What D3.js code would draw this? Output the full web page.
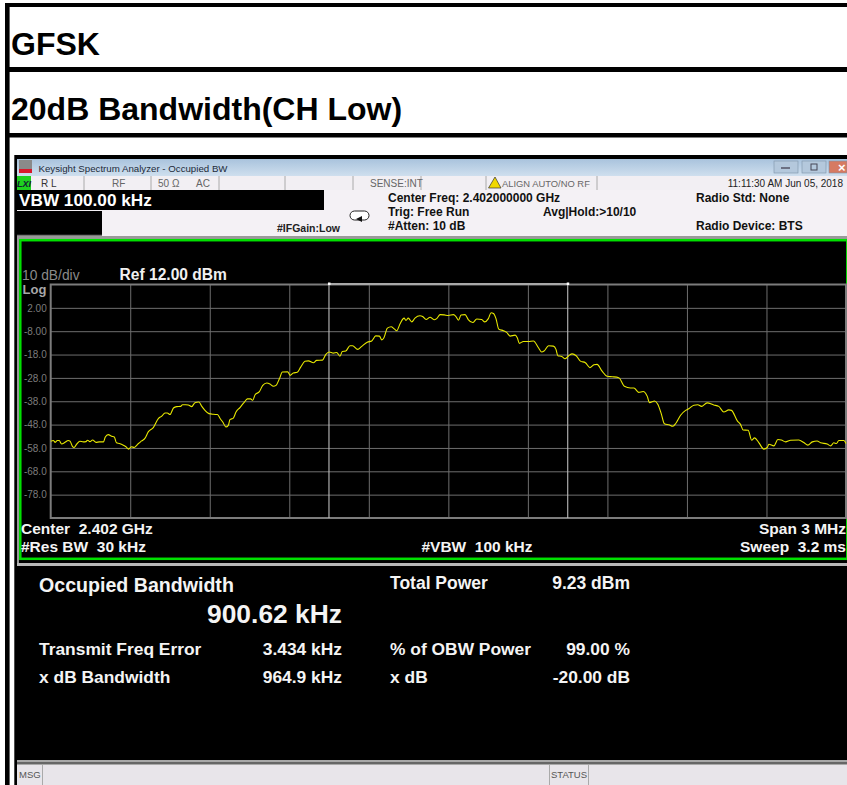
<!DOCTYPE html>
<html><head><meta charset="utf-8">
<script src="https://cdn.jsdelivr.net/npm/d3@7/dist/d3.min.js"></script>
<style>html,body{margin:0;padding:0;background:#fff;overflow:hidden}svg{display:block}text{font-family:"Liberation Sans",Arial,sans-serif;white-space:pre}</style>
</head><body><svg id="c" width="847" height="785"></svg>
<script>
const offsetMHz=[-1.500,-1.490,-1.483,-1.475,-1.468,-1.459,-1.446,-1.434,-1.427,-1.418,-1.412,-1.402,-1.390,-1.377,-1.367,-1.361,-1.352,-1.342,-1.329,-1.317,-1.301,-1.294,-1.283,-1.270,-1.260,-1.252,-1.241,-1.226,-1.216,-1.206,-1.195,-1.185,-1.169,-1.157,-1.144,-1.132,-1.113,-1.094,-1.081,-1.069,-1.060,-1.050,-1.037,-1.025,-1.010,-1.003,-0.991,-0.981,-0.968,-0.956,-0.941,-0.930,-0.918,-0.903,-0.886,-0.871,-0.861,-0.851,-0.839,-0.830,-0.824,-0.811,-0.801,-0.786,-0.771,-0.758,-0.746,-0.738,-0.729,-0.713,-0.700,-0.685,-0.673,-0.660,-0.650,-0.637,-0.626,-0.606,
-0.597,-0.585,-0.570,-0.557,-0.541,-0.528,-0.509,-0.497,-0.475,-0.462,-0.449,-0.434,-0.421,-0.409,-0.400,-0.387,-0.371,-0.361,-0.342,-0.327,-0.306,-0.289,-0.274,-0.260,-0.251,-0.243,-0.230,-0.216,-0.204,-0.195,-0.182,-0.167,-0.160,-0.151,-0.138,-0.126,-0.107,-0.097,-0.084,-0.069,-0.054,-0.044,-0.031,-0.016,0.000,0.019,0.028,0.038,0.048,0.063,0.075,0.092,0.107,0.126,0.136,0.151,0.161,0.170,0.180,0.190,0.208,0.220,0.233,0.252,0.260,0.268,0.283,0.302,0.321,0.340,0.352,0.361,0.378,0.396,0.406,0.413,0.428,0.440,
0.454,0.467,0.482,0.498,0.517,0.534,0.549,0.561,0.580,0.599,0.618,0.643,0.664,0.687,0.700,0.718,0.735,0.750,0.759,0.778,0.790,0.803,0.815,0.832,0.847,0.859,0.876,0.895,0.907,0.926,0.941,0.955,0.976,1.001,1.020,1.039,1.058,1.068,1.090,1.102,1.112,1.131,1.144,1.155,1.171,1.190,1.203,1.209,1.228,1.243,1.256,1.272,1.291,1.322,1.341,1.356,1.373,1.391,1.404,1.429,1.442,1.454,1.464,1.473,1.492,1.500];
const levelDbm=[-55.1,-54.8,-55.6,-54.8,-54.8,-56.3,-55.6,-54.8,-55.1,-57.3,-57.8,-56.4,-55.1,-55.4,-55.3,-54.7,-55.3,-54.6,-55.6,-55.4,-55.4,-53.3,-52.3,-53.0,-53.3,-55.8,-56.1,-56.8,-57.5,-58.5,-57.5,-57.8,-56.1,-55.0,-53.8,-51.1,-49.3,-45.4,-44.4,-43.0,-43.0,-43.7,-40.9,-40.3,-40.2,-39.5,-39.5,-39.6,-40.3,-38.6,-38.3,-40.2,-41.9,-43.3,-43.6,-43.7,-45.4,-46.9,-49.0,-48.3,-45.9,-45.2,-42.6,-40.7,-38.6,-37.0,-37.0,-37.6,-35.2,-33.9,-31.2,-30.2,-30.6,-31.6,-31.2,-28.3,-25.5,-25.4,
-26.9,-25.9,-25.6,-23.4,-20.9,-20.7,-21.5,-20.5,-20.4,-17.9,-16.9,-17.4,-17.1,-18.7,-16.7,-16.5,-14.2,-14.2,-15.8,-14.5,-12.7,-12.2,-10.0,-10.1,-11.7,-10.8,-6.7,-6.1,-7.0,-7.8,-4.8,-2.4,-3.4,-2.4,-4.0,-2.4,-1.4,-1.7,-3.0,-2.0,-3.1,-2.6,-0.9,-1.0,-1.3,-0.9,-1.6,-3.3,-1.1,-0.9,-3.0,-4.3,-2.8,-3.0,-4.0,-2.6,-0.1,-0.4,-2.7,-7.1,-7.8,-8.5,-10.1,-9.7,-10.8,-13.2,-12.4,-12.4,-12.2,-15.1,-16.9,-16.5,-14.2,-14.4,-15.8,-18.5,-18.8,-19.8,
-18.5,-17.7,-18.5,-20.8,-21.5,-23.6,-22.4,-22.2,-25.1,-27.3,-27.5,-27.9,-31.6,-32.3,-32.3,-34.2,-33.8,-35.8,-38.6,-37.9,-39.3,-43.3,-47.6,-48.1,-48.7,-47.3,-44.0,-41.9,-41.2,-39.7,-39.5,-40.2,-38.7,-39.6,-40.2,-42.6,-41.7,-41.9,-46.4,-47.9,-50.3,-50.4,-54.7,-53.7,-55.7,-58.5,-57.8,-56.4,-57.1,-54.4,-54.6,-55.4,-54.7,-54.6,-55.7,-56.8,-55.4,-55.0,-55.8,-56.3,-57.1,-55.8,-56.1,-54.8,-54.8,-56.1];
const yTicks=[2,-8,-18,-28,-38,-48,-58,-68,-78];
const yLabels=["2.00","-8.00","-18.0","-28.0","-38.0","-48.0","-58.0","-68.0","-78.0"];
const xDivisions=[-1.2,-0.9,-0.6,-0.3,0,0.3,0.6,0.9,1.2];
const obwMarkers=[-0.45031,0.45031];

const svg=d3.select("#c");
const rect=(x,y,w,h,f)=>svg.append("rect").attr("x",x).attr("y",y).attr("width",w).attr("height",h).attr("fill",f);
const line=(x1,y1,x2,y2,s,w=1)=>svg.append("line").attr("x1",x1).attr("y1",y1).attr("x2",x2).attr("y2",y2).attr("stroke",s).attr("stroke-width",w);
const label=(s,x,y,size,fill,weight="bold",anchor="start",extra={})=>{const t=svg.append("text").attr("x",x).attr("y",y).attr("font-size",size).attr("fill",fill).attr("font-weight",weight).attr("text-anchor",anchor).text(s);for(const k in extra)t.attr(k,extra[k]);return t;};

// Document table
rect(5,3,842,4,"#000");rect(5,67,842,5,"#000");rect(5,133,842,4.5,"#000");rect(5,3,4.6,782,"#000");
label("GFSK",11,55,32,"#000");
label("20dB Bandwidth(CH Low)",11,120,32,"#000");

// Screenshot frame
rect(14.3,155,833,630,"#000");
const defs=svg.append("defs");
const tg=defs.append("linearGradient").attr("id","title").attr("x1",0).attr("x2",0).attr("y1",0).attr("y2",1);
tg.append("stop").attr("offset",0).attr("stop-color","#a9c3dd");tg.append("stop").attr("offset",1).attr("stop-color","#cfdfee");
rect(17,159,830,17,"url(#title)");
rect(19,160,13,13,"#8a8a8a");rect(19,169,13,4,"#d8192c");
label("Keysight Spectrum Analyzer - Occupied BW",38.5,171.5,9.7,"#1c2a3a","normal");
[[774,24,"#b4c8dc"],[802,24,"#b4c8dc"],[829,18,"#d67a62"]].forEach(d=>rect(d[0],161,d[1],12,d[2]).attr("stroke","#7d93a8").attr("stroke-width",.6));
line(781,168,790,168,"#556",1.5);rect(811,164,6,6,"none").attr("stroke","#445");
label("×",838,172,13,"#fff");

// Status row
rect(17,176,830,14,"#f2eff3");
rect(17,176,14,14,"#1fd01f");
label("LXI",24,187,9,"#123","bold","middle",{"font-style":"italic"});
label("R L",41,187,10,"#333","normal");
label("RF",112,187,10,"#666","normal");
label("50 Ω",158,187,10,"#666","normal");
label("AC",196,187,10,"#666","normal");
[84,151,219,285,353,421,486,597].forEach(v=>line(v,176,v,190,"#aaa"));
label("SENSE:INT",370,187,10,"#666","normal");
svg.append("path").attr("d","M488.5 188 L495 177 L501 188 Z").attr("fill","#f0d800").attr("stroke","#333").attr("stroke-width",.7);
label("ALIGN AUTO/NO RF",502,187,9.4,"#666","normal");
label("11:11:30 AM Jun 05, 2018",843,187,10,"#222","normal","end");

// Settings panel
rect(17,190,830,50,"#f4f1f5");
rect(17,190,307,20,"#000");
label("VBW 100.00 kHz",19,205.5,17.2,"#fff");
rect(17,211,85,24,"#000");line(17,235.5,102,235.5,"#777",1.5);
label("#IFGain:Low",277,232,10.5,"#222");
svg.append("rect").attr("x",350).attr("y",211).attr("width",19).attr("height",9).attr("rx",4.5).attr("fill","#fff").attr("stroke","#222");
svg.append("path").attr("d","M356 219 L362 216 L362 222 Z").attr("fill","#111");
label("Center Freq: 2.402000000 GHz",388,201.5,12,"#111");
label("Trig: Free Run",388,215.5,12,"#111");
label("#Atten: 10 dB",388,230,12,"#111");
label("Avg|Hold:>10/10",543,215.5,12,"#111");
label("Radio Std: None",696,201.5,12,"#111");
label("Radio Device: BTS",696,230,12,"#111");

// Graph panel
rect(17,236,830,4,"#9a9a9a");
rect(17,236,2,327,"#9a9a9a");
rect(19,240,828,320,"#000");
rect(20.3,240.2,827,318.6,"none").attr("stroke","#00e000").attr("stroke-width",2.5);
label("10 dB/div",22,279.5,13.8,"#8a8a8a","normal");
label("Ref 12.00 dBm",119.5,280,15.6,"#f0f0f0");
label("Log",22.5,294,13,"#a8a8a8");

const plotLeft=50.7,plotRight=846,plotTop=284.5,plotBottom=518;
const xScale=d3.scaleLinear().domain([-1.5,1.5]).range([plotLeft,plotRight]);
const yScale=d3.scaleLinear().domain([12,-88]).range([plotTop,plotBottom]);

const gy=svg.append("g").attr("transform",`translate(${plotLeft},0)`).call(d3.axisLeft(yScale).tickValues(yTicks).tickSize(-(plotRight-plotLeft)).tickPadding(6).tickFormat((d,i)=>yLabels[i]));
gy.select(".domain").remove();
gy.selectAll("line").attr("stroke","#6e6e6e").attr("stroke-width",1);
gy.selectAll("text").attr("fill","#7c7c7c").attr("font-size",10).attr("font-family","Liberation Sans").attr("x",-4).attr("text-anchor","end");
const gx=svg.append("g").attr("transform",`translate(0,${plotBottom})`).call(d3.axisBottom(xScale).tickValues(xDivisions).tickSize(-(plotBottom-plotTop)).tickFormat(""));
gx.select(".domain").remove();
gx.selectAll("line").attr("stroke","#6e6e6e").attr("stroke-width",1);
svg.append("rect").attr("x",plotLeft).attr("y",plotTop).attr("width",plotRight-plotLeft).attr("height",plotBottom-plotTop).attr("fill","none").attr("stroke","#7c7c7c").attr("stroke-width",2);
// occupied-bandwidth markers
obwMarkers.forEach(m=>line(xScale(m),plotTop-1,xScale(m),plotBottom,"#bdbdbd",1.1));
line(xScale(obwMarkers[0]),plotTop-.5,xScale(obwMarkers[1]),plotTop-.5,"#a8a8a8",2);
obwMarkers.forEach(m=>rect(xScale(m)-1,plotTop-2,2.5,2.5,"#fff"));

const points=d3.zip(offsetMHz,levelDbm);
svg.append("path").datum(points).attr("fill","none").attr("stroke","#e8e800").attr("stroke-width",1.1).attr("stroke-linejoin","round")
  .attr("d",d3.line().x(d=>xScale(d[0])).y(d=>yScale(d[1])).curve(d3.curveMonotoneX));

label("Center  2.402 GHz",21,534,15.5,"#f4f4f4");
label("#Res BW  30 kHz",21,552,15.5,"#f4f4f4");
label("#VBW  100 kHz",477,552,15.5,"#f4f4f4","bold","middle");
label("Span 3 MHz",846,534,15.5,"#f4f4f4","bold","end");
label("Sweep  3.2 ms",846,552,15.5,"#f4f4f4","bold","end");

// Results panel
rect(17,563,830,3,"#b8b8b8");
label("Occupied Bandwidth",39,592,19.6,"#f4f4f4");
label("900.62 kHz",342,623,26.4,"#f4f4f4","bold","end");
label("Total Power",390,589,17.5,"#f4f4f4");
label("9.23 dBm",630,589,17.5,"#f4f4f4","bold","end");
label("Transmit Freq Error",39,655,17.4,"#f4f4f4");
label("3.434 kHz",342,655,17.4,"#f4f4f4","bold","end");
label("% of OBW Power",390,655,17.4,"#f4f4f4");
label("99.00 %",630,655,17.4,"#f4f4f4","bold","end");
label("x dB Bandwidth",39,683,17.4,"#f4f4f4");
label("964.9 kHz",342,683,17.4,"#f4f4f4","bold","end");
label("x dB",390,683,17.4,"#f4f4f4");
label("-20.00 dB",630,683,17.4,"#f4f4f4","bold","end");

// Message bar
rect(17,760,830,5,"#a8a8a8");rect(17,762,830,2,"#666");
rect(17,765,830,20,"#e8e5ea");
label("MSG",19,778,9.5,"#555","normal");
line(42.5,765,42.5,785,"#aaa");
line(549.5,765,549.5,785,"#aaa");line(588.5,765,588.5,785,"#aaa");
label("STATUS",551,778,9.5,"#555","normal");
</script></body></html>
